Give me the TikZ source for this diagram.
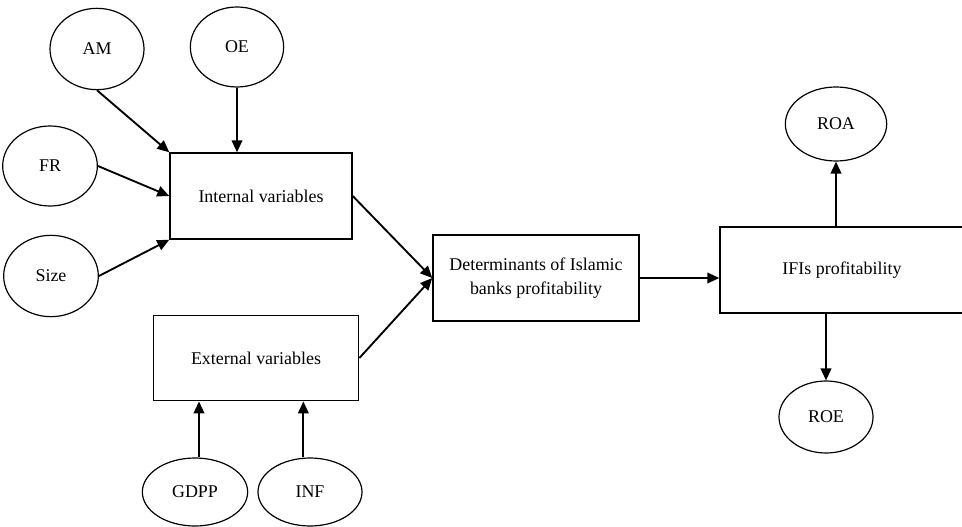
\documentclass[tikz,border=0pt]{standalone}
\usepackage{fontspec}
\setmainfont{Liberation Serif}
\usetikzlibrary{shapes.geometric,arrows.meta}

\begin{document}
\begin{tikzpicture}[x=0.75pt,y=-0.75pt,
		font=\fontsize{13.45}{17.5}\selectfont,
		var/.style={draw,line width=0.9pt,ellipse,inner sep=0pt},
		blockbox/.style={draw,line width=1.1pt,rectangle,inner sep=0pt,align=center},
		link/.style={line width=1.4pt,-{Triangle[length=9pt,width=8pt]}}]
			\useasboundingbox (0,0) rectangle (962,527);

			% internal determinants
			\node [var,minimum width=70.5pt,minimum height=61pt](am) at (97,49) {AM};
			\node [var,minimum width=70pt,minimum height=60pt](oe) at (237,47) {OE};
			\node [var,minimum width=71pt,minimum height=60pt](fr) at (50,166) {FR};
			\node [var,minimum width=71pt,minimum height=61pt](size) at (51,276) {Size};
			\node [blockbox,minimum width=136.5pt,minimum height=64.5pt](in) at (261,196) {Internal variables};

			% external determinants
			\node [blockbox,minimum width=154pt,minimum height=64pt](ex) at (256,358) {External variables};
			\node [var,minimum width=79pt,minimum height=51pt](gdpp) at (195,492) {GDPP};
			\node [var,minimum width=78pt,minimum height=51pt](inf) at (310,492) {INF};

			\node [blockbox,minimum width=154.5pt,minimum height=64.5pt](det) at (536,278) {Determinants of Islamic\\banks profitability};

			% profitability measures
			\node [blockbox,minimum width=183pt,minimum height=64.5pt](ifi) at (842,270) {IFIs profitability};
			\node [var,minimum width=76pt,minimum height=55.5pt](roa) at (836,124) {ROA};
			\node [var,minimum width=70.5pt,minimum height=54pt](roe) at (826,417) {ROE};

			\draw [link](am.south) -- (in.north west);
			\draw [link](oe.south) -- (oe.south |- in.north);
			\draw [link](fr.east) -- (in.west);
			\draw [link](size.east) -- (in.south west);

			\draw [link]([xshift=3pt]gdpp.north) -- ([xshift=3pt]gdpp.north |- ex.south);
			\draw [link]([xshift=-5pt]inf.north) -- ([xshift=-5pt]inf.north |- ex.south);

			\draw [link](in.east) -- (det.west);
			\draw [link](ex.east) -- (det.west);

			\draw [link](det.east) -- (det.east -| ifi.west);
			\draw [link](ifi.north -| roa) -- (roa.south);
			\draw [link](ifi.south -| roe) -- (roe.north);

		\end{tikzpicture}
\end{document}
